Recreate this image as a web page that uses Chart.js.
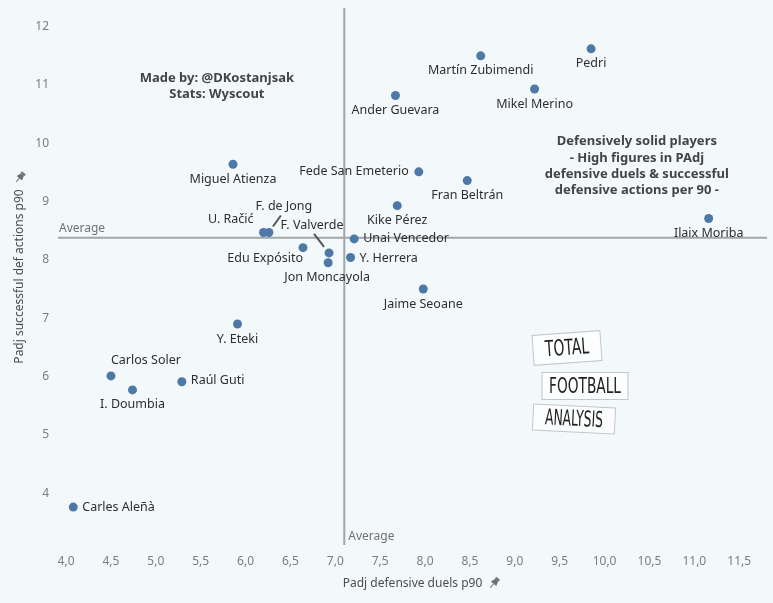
<!DOCTYPE html>
<html>
<head>
<meta charset="utf-8">
<script src="https://cdn.jsdelivr.net/npm/chart.js@4.4.0/dist/chart.umd.min.js"></script>
<style>
    html, body { margin: 0; padding: 0; background: #f3f9fa; }
    #wrap { width: 773px; height: 603px; }
</style>
</head>
<body>
<div id="wrap"><canvas id="chart" width="773" height="603"></canvas></div>
<script>
// Data
var players = ['Pedri', 'Martín Zubimendi', 'Mikel Merino', 'Ander Guevara', 'Fede San Emeterio',
    'Fran Beltrán', 'Kike Pérez', 'Ilaix Moriba', 'Miguel Atienza', 'U. Račić', 'F. de Jong',
    'Edu Expósito', 'F. Valverde', 'Jon Moncayola', 'Unai Vencedor', 'Y. Herrera', 'Jaime Seoane',
    'Y. Eteki', 'Carlos Soler', 'I. Doumbia', 'Raúl Guti', 'Carles Aleñà'];
var defDuels = [9.85, 8.62, 9.22, 7.67, 7.93, 8.47, 7.69, 11.16, 5.86, 6.20, 6.26,
    6.64, 6.93, 6.92, 7.21, 7.17, 7.98, 5.91, 4.50, 4.74, 5.29, 4.08];
var defActions = [11.62, 11.50, 10.93, 10.82, 9.51, 9.36, 8.93, 8.71, 9.64, 8.47, 8.47,
    8.21, 8.12, 7.95, 8.36, 8.04, 7.50, 6.90, 6.01, 5.77, 5.91, 3.76];
var avgDuels = 7.10;
var avgActions = 8.38;
var xTicks = [4, 4.5, 5, 5.5, 6, 6.5, 7, 7.5, 8, 8.5, 9, 9.5, 10, 10.5, 11, 11.5];
var xTickLabels = ['4,0', '4,5', '5,0', '5,5', '6,0', '6,5', '7,0', '7,5', '8,0', '8,5',
    '9,0', '9,5', '10,0', '10,5', '11,0', '11,5'];
var yTicks = [4, 5, 6, 7, 8, 9, 10, 11, 12];
var creditLines = ['Made by: @DKostanjsak', 'Stats: Wyscout'];
var noteLines = ['Defensively solid players', '- High figures in PAdj',
    'defensive duels & successful', 'defensive actions per 90 -'];
var logoWords = ['TOTAL', 'FOOTBALL', 'ANALYSIS'];

// label placement: dx, dy, align (+ optional leader line)
var labelPlace = [
    [0, 15, 'center'], [0, 15, 'center'], [0, 15, 'center'], [0, 15, 'center'], [-10, 0, 'right'],
    [0, 15, 'center'], [0, 15, 'center'], [0, 15, 'center'], [0, 15, 'center'], [-10, -13, 'right'],
    [15, -26, 'center', [4, -6, 12, -17]],
    [0, 11, 'right'], [-17, -27, 'center', [-15, -19, -5, -6]], [-1, 15, 'center'], [9, 0, 'left'],
    [9, 1, 'left'], [0, 15, 'center'], [0, 15, 'center'], [0, -15, 'left'], [0, 15, 'center'],
    [9, -1, 'left'], [9, 0, 'left']
];

var points = players.map(function (p, i) { return {x: defDuels[i], y: defActions[i]}; });

function drawPin(ctx, x, y, rot) {
    ctx.save();
    ctx.translate(x, y);
    ctx.rotate(rot);
    ctx.fillStyle = '#6b6f72';
    ctx.strokeStyle = '#6b6f72';
    ctx.fillRect(-2.5, -6, 5, 2);
    ctx.beginPath();
    ctx.moveTo(-1.8, -4); ctx.lineTo(1.8, -4); ctx.lineTo(3.5, 1); ctx.lineTo(-3.5, 1);
    ctx.closePath();
    ctx.fill();
    ctx.lineWidth = 1;
    ctx.beginPath();
    ctx.moveTo(0, 1); ctx.lineTo(0, 6);
    ctx.stroke();
    ctx.restore();
}

var extras = {
    id: 'extras',
    beforeDraw: function (chart) {
        var ctx = chart.ctx;
        ctx.save();
        ctx.fillStyle = '#f3f9fa';
        ctx.fillRect(0, 0, chart.width, chart.height);
        ctx.restore();
    },
    beforeDatasetsDraw: function (chart) {
        var ctx = chart.ctx, a = chart.chartArea;
        var px = chart.scales.x.getPixelForValue(avgDuels);
        var py = chart.scales.y.getPixelForValue(avgActions);
        ctx.save();
        ctx.strokeStyle = '#a3a6a8';
        ctx.lineWidth = 2;
        ctx.beginPath();
        ctx.moveTo(px, a.top); ctx.lineTo(px, a.bottom);
        ctx.moveTo(a.left, py); ctx.lineTo(a.right, py);
        ctx.stroke();
        ctx.fillStyle = '#6e7275';
        ctx.font = '12px "Noto Sans"';
        ctx.textBaseline = 'middle';
        ctx.textAlign = 'left';
        ctx.fillText('Average', a.left + 1, py - 9);
        ctx.fillText('Average', px + 4, a.bottom - 8);
        ctx.restore();
    },
    afterDatasetsDraw: function (chart) {
        var ctx = chart.ctx;
        var meta = chart.getDatasetMeta(0);
        var sx = chart.scales.x, sy = chart.scales.y;
        ctx.save();
        ctx.font = '12.5px "Noto Sans"';
        ctx.fillStyle = '#2e2e2e';
        ctx.textBaseline = 'middle';
        meta.data.forEach(function (el, i) {
            var lp = labelPlace[i];
            ctx.textAlign = lp[2];
            ctx.fillText(players[i], el.x + lp[0], el.y + lp[1]);
            if (lp[3]) {
                ctx.strokeStyle = '#555';
                ctx.lineWidth = 2;
                ctx.beginPath();
                ctx.moveTo(el.x + lp[3][0], el.y + lp[3][1]);
                ctx.lineTo(el.x + lp[3][2], el.y + lp[3][3]);
                ctx.stroke();
            }
        });

        // text boxes
        ctx.fillStyle = '#444';
        ctx.font = 'bold 13px "Noto Sans"';
        ctx.textAlign = 'center';
        var cx = sx.getPixelForValue(5.68), cy = sy.getPixelForValue(10.97);
        creditLines.forEach(function (t, i) {
            ctx.fillText(t, cx, cy + (i - 0.5) * 16);
        });
        cx = sx.getPixelForValue(10.36); cy = sy.getPixelForValue(9.61);
        noteLines.forEach(function (t, i) {
            ctx.fillText(t, cx, cy + (i - 1.5) * 16.3);
        });
        ctx.restore();

        // logo
        var boxes = [[567, 348, 68, 30, -0.07, 44], [585, 386, 86, 27, 0, 72], [574, 419, 82, 26, 0.05, 58]];
        ctx.save();
        boxes.forEach(function (b, i) {
            ctx.save();
            ctx.translate(b[0], b[1]);
            ctx.rotate(b[4]);
            ctx.fillStyle = 'rgba(255,255,255,0.7)';
            ctx.fillRect(-b[2] / 2, -b[3] / 2, b[2], b[3]);
            ctx.strokeStyle = '#c4c6c8';
            ctx.lineWidth = 1;
            ctx.strokeRect(-b[2] / 2, -b[3] / 2, b[2], b[3]);
            ctx.font = '22px "DejaVu Sans Condensed", "Liberation Sans Narrow", sans-serif';
            var w = ctx.measureText(logoWords[i]).width;
            ctx.scale(b[5] / w, 1);
            ctx.fillStyle = '#222';
            ctx.textAlign = 'center';
            ctx.textBaseline = 'middle';
            ctx.fillText(logoWords[i], 0, 1);
            ctx.restore();
        });
        ctx.restore();

        // pins next to axis titles
        ctx.save();
        ctx.font = '12px "Noto Sans"';
        var xt = sx.options.title.text, yt = sy.options.title.text;
        var a = chart.chartArea;
        var xw = ctx.measureText(xt).width;
        drawPin(ctx, (a.left + a.right) / 2 + xw / 2 + 12, 583, 0.7);
        var yw = ctx.measureText(yt).width;
        drawPin(ctx, 20, (a.top + a.bottom) / 2 - yw / 2 - 12, 0.7);
        ctx.restore();
    }
};

var ctx = document.getElementById('chart').getContext('2d');
var chart = new Chart(ctx, {
    type: 'scatter',
    data: {
        datasets: [{
            data: points,
            backgroundColor: '#4e79a7',
            borderWidth: 0,
            pointRadius: 4.5,
            pointHoverRadius: 4.5
        }]
    },
    options: {
        responsive: false,
        animation: false,
        layout: { padding: { top: 8, right: 6, left: 0, bottom: 0 } },
        plugins: { legend: { display: false }, tooltip: { enabled: false } },
        events: [],
        scales: {
            x: {
                type: 'linear',
                min: 3.91,
                max: 11.81,
                grid: { display: false, drawTicks: false },
                border: { display: false },
                afterBuildTicks: function (s) { s.ticks = xTicks.map(function (v) { return {value: v}; }); },
                afterFit: function (s) { s.height = 58; s.paddingLeft = 0; s.paddingRight = 0; },
                ticks: {
                    padding: 9,
                    color: '#7a7d80',
                    font: { family: 'Noto Sans', size: 12 },
                    maxRotation: 0,
                    autoSkip: false,
                    callback: function (v) { return xTickLabels[xTicks.indexOf(v)]; }
                },
                title: {
                    display: true,
                    text: 'Padj defensive duels p90',
                    color: '#4a4d50',
                    font: { family: 'Noto Sans', size: 12 },
                    padding: { top: 0, bottom: 12 }
                }
            },
            y: {
                type: 'linear',
                min: 3.11,
                max: 12.32,
                grid: { display: false, drawTicks: false },
                border: { display: false },
                afterBuildTicks: function (s) { s.ticks = yTicks.map(function (v) { return {value: v}; }); },
                afterFit: function (s) { s.width = 58; s.paddingTop = 0; s.paddingBottom = 0; },
                ticks: {
                    padding: 9,
                    color: '#7a7d80',
                    font: { family: 'Noto Sans', size: 12 },
                    autoSkip: false
                },
                title: {
                    display: true,
                    text: 'Padj successful def actions p90',
                    color: '#4a4d50',
                    font: { family: 'Noto Sans', size: 12 },
                    padding: { top: 12, bottom: 0 }
                }
            }
        }
    },
    plugins: [extras]
});
</script>
</body>
</html>
